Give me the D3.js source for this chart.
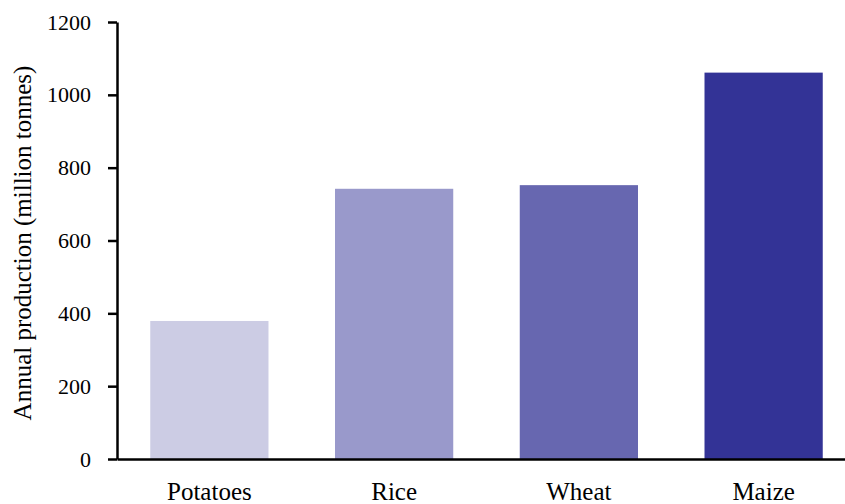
<!DOCTYPE html>
<html>
<head>
<meta charset="utf-8">
<script src="https://cdn.jsdelivr.net/npm/d3@7"></script>
<style>
  body { margin: 0; background: white; }
  svg text { font-family: "Liberation Serif", "DejaVu Serif", serif; }
</style>
</head>
<body>
<div class="chart"></div>
<script>
    var crops = ["Potatoes", "Rice", "Wheat", "Maize"];
    var production = [379, 742, 752, 1061];
    var barColors = ["#cccce4", "#9999cb", "#6767b0", "#333396"];
    var yTicks = [0, 200, 400, 600, 800, 1000, 1200];

    var svg = d3.select(".chart")
                .append("svg")
                .attr("width", 845)
                .attr("height", 504)
                .style("background-color", "white");

    var x = d3.scaleBand()
              .domain(crops)
              .range([117, 856])
              .paddingInner(0.36)
              .paddingOuter(0.18);

    var y = d3.scaleLinear()
              .domain([0, 1200])
              .range([459, 22]);

    // bars
    svg.selectAll("rect.bar")
       .data(crops)
       .enter()
       .append("rect")
       .attr("class", "bar")
       .attr("x", function(d) { return x(d); })
       .attr("y", function(d, i) { return y(production[i]); })
       .attr("width", x.bandwidth())
       .attr("height", function(d, i) { return y(0) - y(production[i]); })
       .attr("fill", function(d, i) { return barColors[i]; });

    // y axis
    var yAxis = svg.append("g")
                   .attr("transform", "translate(117,0)")
                   .call(d3.axisLeft(y).tickValues(yTicks).tickFormat(d3.format("d"))
                           .tickSize(9).tickPadding(17).tickSizeOuter(0));
    yAxis.select(".domain").attr("stroke", "black").attr("stroke-width", 2.5);
    yAxis.selectAll(".tick line").attr("stroke", "black").attr("stroke-width", 2.5);
    yAxis.selectAll(".tick text")
         .style("font-size", "22px")
         .style("font-family", "'Liberation Serif', serif")
         .attr("fill", "black");

    // x axis
    var xAxis = svg.append("g")
                   .attr("transform", "translate(0,459)")
                   .call(d3.axisBottom(x).tickSize(0).tickPadding(23).tickSizeOuter(0));
    xAxis.select(".domain").attr("stroke", "black").attr("stroke-width", 2.5);
    xAxis.selectAll(".tick text")
         .style("font-size", "25px")
         .style("font-family", "'Liberation Serif', serif")
         .attr("fill", "black");

    // y axis title
    svg.append("text")
       .attr("text-anchor", "middle")
       .attr("transform", "translate(31,243) rotate(-90)")
       .text("Annual production (million tonnes)")
       .style("font-size", "25px")
       .style("fill", "black");
</script>
</body>
</html>
